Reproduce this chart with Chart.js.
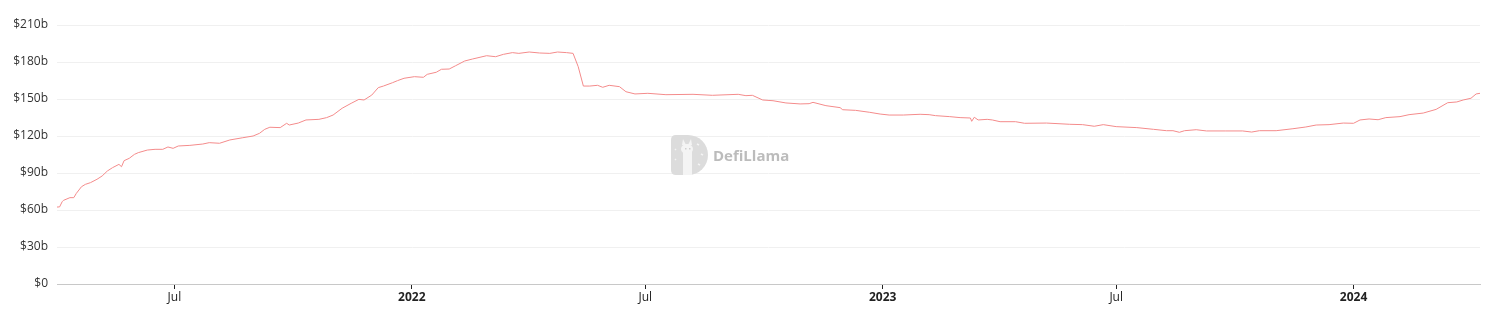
<!DOCTYPE html>
<html>
<head>
<meta charset="utf-8">
<script src="https://cdn.jsdelivr.net/npm/chart.js@4"></script>
<style>
  html, body { margin: 0; padding: 0; background: #ffffff; }
  #wrap { width: 1491px; height: 312px; position: relative; }
</style>
</head>
<body>
<div id="wrap"><canvas id="c" width="1491" height="312"></canvas></div>
<script>
// ---- data (total stablecoin market cap, billions USD) ----
const dates = [
  "2021-04-01","2021-04-03","2021-04-05","2021-04-06","2021-04-11","2021-04-14","2021-04-16","2021-04-20","2021-04-23","2021-04-27",
  "2021-05-02","2021-05-06","2021-05-10","2021-05-14","2021-05-19","2021-05-21","2021-05-23","2021-05-27","2021-05-31",
  "2021-06-03","2021-06-10","2021-06-16","2021-06-22","2021-06-26","2021-06-30",
  "2021-07-04","2021-07-13","2021-07-23","2021-07-28","2021-08-05","2021-08-13","2021-08-23","2021-08-31",
  "2021-09-05","2021-09-09","2021-09-13","2021-09-21","2021-09-26","2021-09-28","2021-10-05","2021-10-11","2021-10-21","2021-10-27",
  "2021-11-01","2021-11-08","2021-11-15","2021-11-21","2021-11-25","2021-12-01","2021-12-06","2021-12-10","2021-12-17","2021-12-21","2021-12-26",
  "2022-01-03","2022-01-10","2022-01-13","2022-01-20","2022-01-24","2022-01-30","2022-02-04","2022-02-11","2022-02-17","2022-02-28",
  "2022-03-07","2022-03-13","2022-03-20","2022-03-25","2022-04-02","2022-04-10","2022-04-18","2022-04-24","2022-05-01","2022-05-06",
  "2022-05-10","2022-05-14","2022-05-19","2022-05-25","2022-05-29","2022-06-03","2022-06-11","2022-06-16","2022-06-23",
  "2022-07-03","2022-07-17","2022-08-07","2022-08-22","2022-09-11","2022-09-17","2022-09-22","2022-09-30",
  "2022-10-08","2022-10-18","2022-10-29","2022-11-05","2022-11-08","2022-11-18","2022-11-29","2022-12-01","2022-12-11","2022-12-22","2022-12-30",
  "2023-01-06","2023-01-17","2023-01-30","2023-02-06","2023-02-11","2023-02-22","2023-03-02","2023-03-10","2023-03-11","2023-03-13","2023-03-16","2023-03-23","2023-03-27",
  "2023-04-02","2023-04-14","2023-04-21","2023-05-08","2023-05-26","2023-06-05","2023-06-14","2023-06-21","2023-07-01","2023-07-17","2023-07-30",
  "2023-08-09","2023-08-14","2023-08-19","2023-08-23","2023-09-01","2023-09-09","2023-09-24","2023-10-07","2023-10-14","2023-10-20",
  "2023-11-02","2023-11-15","2023-11-25","2023-12-03","2023-12-13","2023-12-24",
  "2024-01-01","2024-01-06","2024-01-13","2024-01-20","2024-01-26","2024-02-06","2024-02-13","2024-02-24",
  "2024-03-05","2024-03-14","2024-03-21","2024-03-26","2024-04-01","2024-04-05","2024-04-08"
];
const mcapBillions = [
  62.4,62.5,66.7,67.8,70.0,70.0,73.5,78.9,80.8,82.2,
  84.9,87.6,91.6,94.3,97.0,95.1,100.0,101.9,105.1,
  106.5,108.6,109.2,109.2,111.1,110.0,
  111.9,112.4,113.5,114.6,114.1,116.8,118.6,120.0,
  122.2,125.4,127.1,126.8,130.3,128.9,130.5,133.0,133.5,134.9,
  137.0,142.5,146.5,149.7,149.2,153.2,159.2,160.5,163.2,164.9,166.8,
  168.1,167.6,170.0,171.7,174.1,174.3,177.0,180.8,182.4,185.1,
  184.3,186.2,187.6,187.0,188.1,187.3,187.0,188.1,187.6,187.0,
  176.2,160.5,160.5,161.1,159.5,161.1,160.0,155.9,154.1,
  154.6,153.5,153.8,153.0,153.8,152.7,153.0,149.2,
  148.6,146.8,146.0,146.2,147.3,144.6,143.0,141.3,140.8,139.2,137.8,
  137.0,137.0,137.6,137.3,136.5,135.7,134.9,134.6,131.9,135.2,133.0,133.5,133.0,
  131.6,131.6,130.3,130.5,129.5,129.2,127.9,129.2,127.6,126.8,125.4,
  124.3,124.3,123.0,124.3,125.1,124.1,124.1,124.1,123.2,124.3,
  124.3,125.9,127.3,128.9,129.2,130.5,
  130.3,133.0,133.8,133.2,134.9,135.7,137.3,138.6,
  141.6,147.0,147.6,149.2,150.6,154.1,154.6
];
const xTickDates = ["2021-07-01","2022-01-01","2022-07-01","2023-01-01","2023-07-01","2024-01-01"];
const xTickLabels = ["Jul","2022","Jul","2023","Jul","2024"];
const yTickValues = [0,30,60,90,120,150,180,210];
const watermarkText = "DefiLlama";

// ---- helpers ----
const ts = s => { const [y,m,d] = s.split("-").map(Number); return Date.UTC(y, m-1, d); };
const points = dates.map((d, i) => ({ x: ts(d), y: mcapBillions[i] * 1e9 }));
const xTickTs = xTickDates.map(ts);

const FONT = "'Open Sans', 'Noto Sans', sans-serif";

const watermark = {
  id: "watermark",
  beforeDatasetsDraw(chart) {
    const ctx = chart.ctx;
    const cx = 688, cy = 155;
    ctx.save();
    // D-shaped logo with rounded left corners
    ctx.fillStyle = "#dcdcdc";
    ctx.beginPath();
    ctx.moveTo(cx - 12, cy - 20);
    ctx.lineTo(cx, cy - 20);
    ctx.arc(cx, cy, 20, -Math.PI/2, Math.PI/2, false);
    ctx.lineTo(cx - 12, cy + 20);
    ctx.quadraticCurveTo(cx - 17, cy + 20, cx - 17, cy + 15);
    ctx.lineTo(cx - 17, cy - 15);
    ctx.quadraticCurveTo(cx - 17, cy - 20, cx - 12, cy - 20);
    ctx.closePath();
    ctx.fill();
    // llama silhouette
    ctx.fillStyle = "#f4f4f4";
    ctx.beginPath();
    ctx.ellipse(cx - 1, cy - 6, 6, 5, 0, 0, Math.PI*2);
    ctx.fill();
    ctx.fillRect(cx - 5, cy - 5, 9, 25);
    ctx.beginPath();
    ctx.moveTo(cx - 6, cy - 10); ctx.lineTo(cx - 5, cy - 16); ctx.lineTo(cx - 2, cy - 10); ctx.fill();
    ctx.beginPath();
    ctx.moveTo(cx, cy - 10); ctx.lineTo(cx + 3, cy - 16); ctx.lineTo(cx + 4, cy - 10); ctx.fill();
    ctx.fillStyle = "#cfcfcf";
    ctx.fillRect(cx - 3, cy - 7, 1.5, 1.5);
    ctx.fillRect(cx + 1, cy - 7, 1.5, 1.5);
    // rays
    ctx.strokeStyle = "#f4f4f4"; ctx.lineWidth = 1.5;
    [[-12,-6],[-12,4],[9,-11],[13,-1],[10,9]].forEach(([dx,dy]) => {
      ctx.beginPath(); ctx.moveTo(cx+dx, cy+dy); ctx.lineTo(cx+dx + (dx>0?2:-1), cy+dy + 1); ctx.stroke();
    });
    // text
    ctx.fillStyle = "#bcbcbc";
    ctx.font = "bold 15px " + FONT;
    ctx.textBaseline = "alphabetic";
    ctx.textAlign = "left";
    ctx.fillText(watermarkText, 713, 161);
    ctx.restore();
  }
};

new Chart(document.getElementById("c"), {
  type: "line",
  data: {
    datasets: [{
      data: points,
      borderColor: "#f48b8b",
      borderWidth: 1,
      pointRadius: 0,
      tension: 0,
      fill: false
    }]
  },
  options: {
    responsive: false,
    animation: false,
    layout: { padding: { top: 25, right: 11, bottom: 0, left: 0 } },
    plugins: { legend: { display: false }, tooltip: { enabled: false } },
    scales: {
      x: {
        type: "linear",
        min: ts(dates[0]),
        max: ts(dates[dates.length - 1]),
        afterBuildTicks(scale) { scale.ticks = xTickTs.map(v => ({ value: v })); },
        afterFit(scale) { scale.height = 28; },
        ticks: {
          autoSkip: false,
          maxRotation: 0,
          padding: 1,
          color: "#222",
          font: ctx => ({ family: FONT, size: 12, weight: (ctx.index % 2 === 1) ? "bold" : "normal" }),
          callback: (v, i) => xTickLabels[i]
        },
        grid: { display: true, drawOnChartArea: false, drawTicks: true, tickLength: 5, tickColor: "#222", tickWidth: 1 },
        border: { display: true, color: "#c8c8c8", width: 1 }
      },
      y: {
        min: 0,
        max: 210e9,
        afterBuildTicks(scale) { scale.ticks = yTickValues.map(v => ({ value: v * 1e9 })); },
        afterFit(scale) { scale.width = 57; },
        ticks: {
          padding: 9,
          color: "#333",
          font: { family: FONT, size: 12 },
          callback: v => v === 0 ? "$0" : "$" + (v / 1e9) + "b"
        },
        grid: { color: "#f0f0f0", drawTicks: false, lineWidth: 1 },
        border: { display: false }
      }
    }
  },
  plugins: [watermark]
});
</script>
</body>
</html>
